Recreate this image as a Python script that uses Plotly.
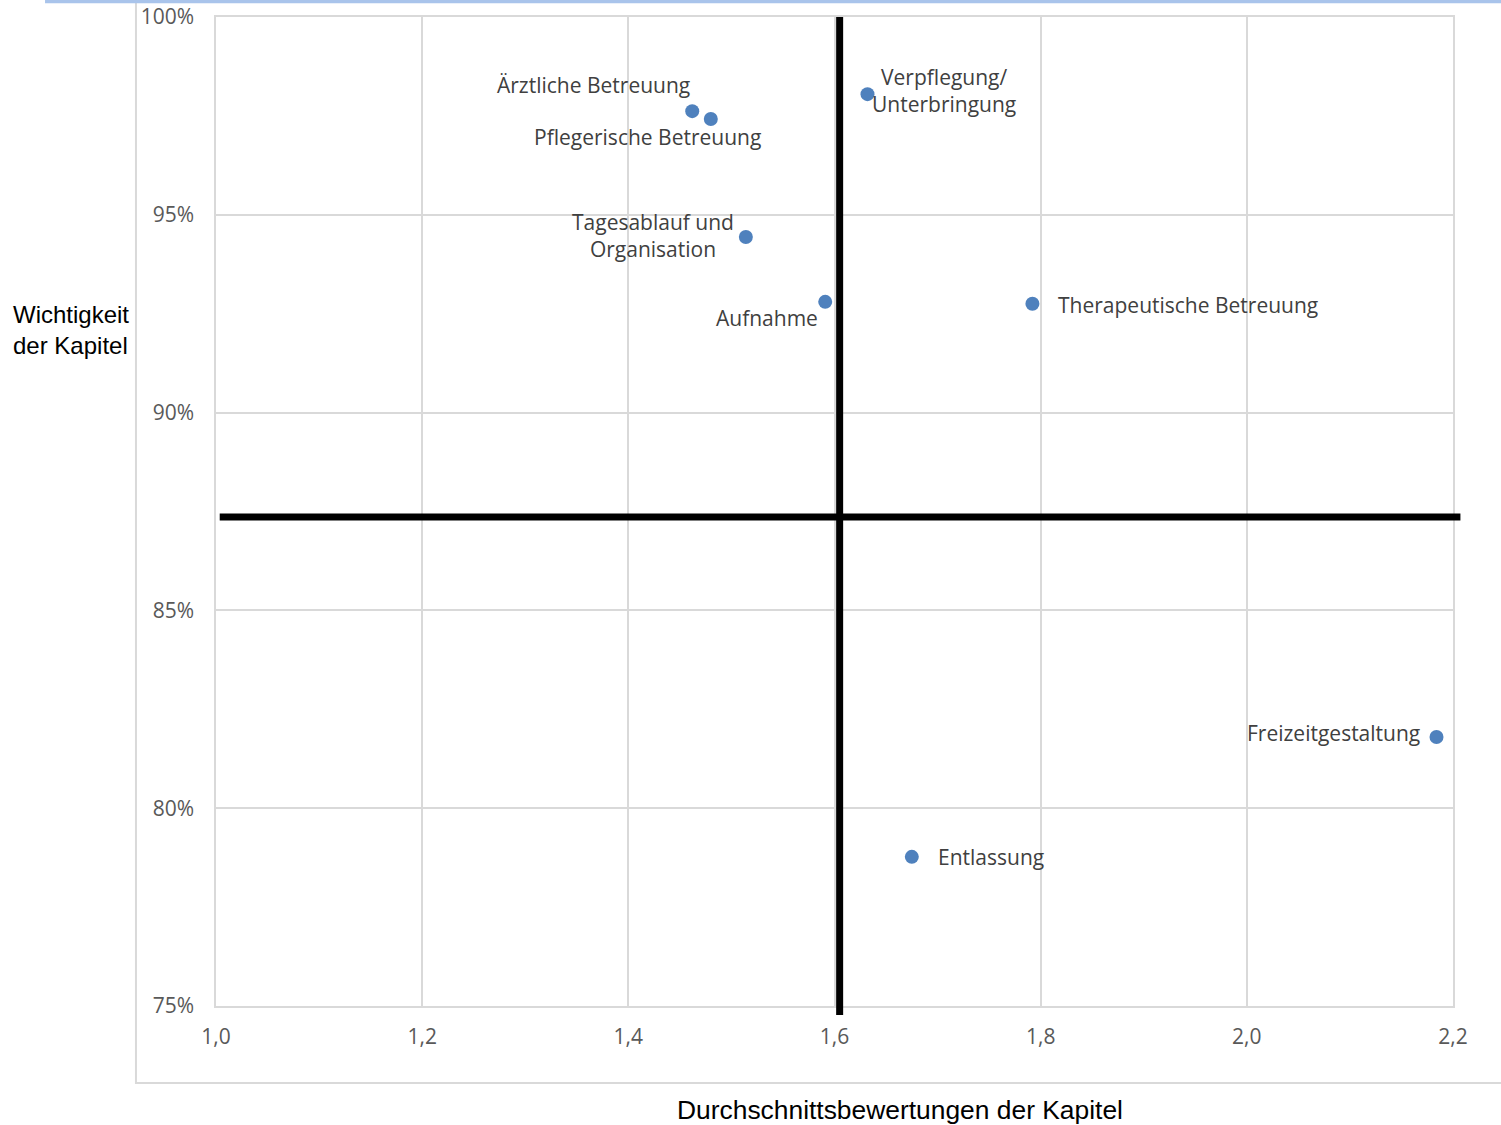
import plotly.graph_objects as go

labels = ["Ärztliche Betreuung", "Pflegerische Betreuung", "Verpflegung/<br>Unterbringung",
          "Tagesablauf und<br>Organisation", "Aufnahme", "Therapeutische Betreuung",
          "Freizeitgestaltung", "Entlassung"]
bewertung = [1.462, 1.480, 1.632, 1.514, 1.591, 1.792, 2.184, 1.675]
wichtigkeit = [0.9762, 0.9742, 0.9805, 0.9444, 0.9280, 0.9275, 0.8180, 0.7877]

# label placement (pixel offsets from point, anchor)
label_dx = [0, -63, 3, -10, -5, 24, -15, 24]
label_dy = [26, -18, 4, 1, -16, -1, 4, 0]
label_anchor = ["right", "center", "left", "right", "right", "left", "right", "left"]

x_split = 1.605
y_split = 0.8736
x_range = [1.0, 2.2]
y_range = [0.75, 1.0]
x_ticks = [1.0, 1.2, 1.4, 1.6, 1.8, 2.0, 2.2]
y_ticks = [0.75, 0.80, 0.85, 0.90, 0.95, 1.00]

label_font = dict(family="Open Sans, Noto Sans, sans-serif", size=21, color="#404040")
tick_font = dict(family="Open Sans, Noto Sans, sans-serif", size=21, color="#595959")
arial = "Liberation Sans, Arial, sans-serif"

fig = go.Figure()
fig.add_trace(go.Scatter(x=bewertung, y=wichtigkeit, mode="markers",
                         marker=dict(size=14, color="#4f81bd"), hoverinfo="skip",
                         cliponaxis=False))

for lab, xv, yv, dx, dy, anc in zip(labels, bewertung, wichtigkeit, label_dx, label_dy, label_anchor):
    fig.add_annotation(x=xv, y=yv, xref="x", yref="y", text=lab, showarrow=False,
                       xanchor=anc, yanchor="middle", xshift=dx, yshift=dy,
                       font=label_font, align="center")

grid = "#d9d9d9"
fig.update_layout(
    width=1501, height=1125,
    margin=dict(l=216, r=48, t=17, b=119, autoexpand=False),
    paper_bgcolor="white", plot_bgcolor="white",
    separators=",.",
    showlegend=False,
    xaxis=dict(range=x_range, tickvals=x_ticks, tickformat=".1f", showgrid=True,
               gridcolor=grid, gridwidth=1.5, showline=True, linecolor=grid, linewidth=1.5,
               mirror=True, zeroline=False, ticks="", tickfont=tick_font, ticklabelstandoff=11,
               automargin=False),
    yaxis=dict(range=y_range, tickvals=y_ticks, tickformat=".0%", showgrid=True,
               gridcolor=grid, gridwidth=1.5, showline=True, linecolor=grid, linewidth=1.5,
               mirror=True, zeroline=False, ticks="", tickfont=tick_font, ticklabelstandoff=16,
               automargin=False),
)

# quadrant lines
fig.add_shape(type="line", xref="x", yref="paper", x0=x_split, x1=x_split, y0=-0.009, y1=1.0,
              line=dict(color="black", width=7), layer="above")
fig.add_shape(type="line", xref="paper", yref="y", x0=0.003, x1=1.006, y0=y_split, y1=y_split,
              line=dict(color="black", width=7), layer="above")

# chart frame and top bar
fig.add_shape(type="rect", xref="paper", yref="paper", x0=-0.0647, x1=1.2, y0=-0.0779, y1=1.0152,
              line=dict(color="#d9d9d9", width=2), layer="below")
fig.add_shape(type="line", xref="paper", yref="paper", x0=-0.1382, x1=1.2, y0=1.0157, y1=1.0157,
              line=dict(color="#a9c4eb", width=3.5), layer="above")

fig.add_annotation(text="Wichtigkeit<br>der Kapitel", xref="paper", yref="paper",
                   x=-0.1657, y=0.6832, xanchor="left", yanchor="middle", showarrow=False,
                   align="left", font=dict(family=arial, size=24, color="black"))
fig.add_annotation(text="Durchschnittsbewertungen der Kapitel", xref="paper", yref="paper",
                   x=0.5529, y=-0.1051, xanchor="center", yanchor="middle", showarrow=False,
                   font=dict(family=arial, size=26.4, color="black"))

fig.write_html("out.html", config={"displayModeBar": False},
               post_script="document.body.style.margin='0';")
